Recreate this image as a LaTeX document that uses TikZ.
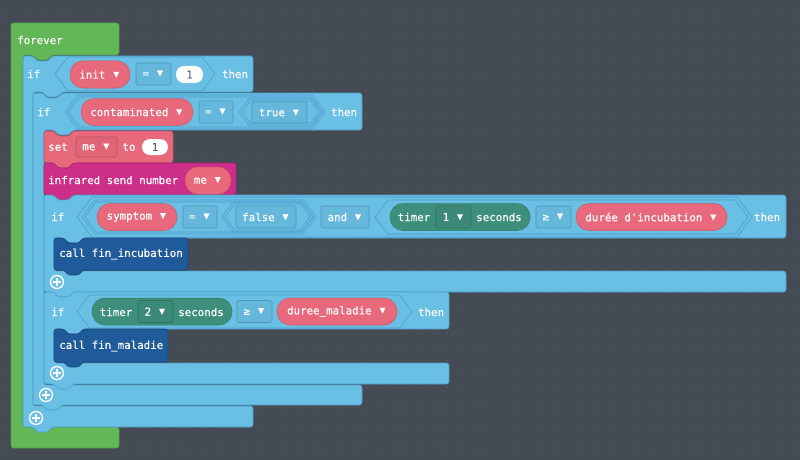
\documentclass[tikz,border=0pt]{standalone}
\usepackage{fontspec}
\newfontfamily\blockfont[FakeBold=0.45]{DejaVu Sans Mono}
\usetikzlibrary{positioning}

\definecolor{workspace}{HTML}{454B54}
\definecolor{griddot}{HTML}{5C626B}
\definecolor{loops}{HTML}{62B856}
\definecolor{logic}{HTML}{69BFE4}
\definecolor{logicline}{HTML}{4E9FC9}
\definecolor{variables}{HTML}{E9697C}
\definecolor{infrared}{HTML}{CC2E89}
\definecolor{functions}{HTML}{1F5A9B}
\definecolor{timers}{HTML}{3D8F7B}
\definecolor{numgray}{HTML}{575E75}

\newcommand{\dd}{{\fontsize{14.5}{12}\selectfont ▾}}
% statement block with top notch and bottom tab: x1,y1,x2,y2,colour
\newcommand{\stmtblock}[5]{%
  \draw [blk, draw=#5!80!black, fill=#5] (#1,#2) -- (#1+10,#2) -- (#1+14,#2+5) -- (#1+25,#2+5) -- (#1+29,#2)
    -- (#3,#2) -- (#3,#4) -- (#1+29,#4) -- (#1+25,#4+5) -- (#1+14,#4+5) -- (#1+10,#4) -- (#1,#4) -- cycle;}
% if block: x1,y1,x2,header bottom,arm,inner bottom,bottom
\newcommand{\ifblock}[7]{%
  \draw [blk, draw=logicline, fill=logic] (#1,#2) -- (#1+10,#2) -- (#1+14,#2+5) -- (#1+25,#2+5) -- (#1+29,#2)
    -- (#3,#2) -- (#3,#4) -- (#1+#5+29,#4) -- (#1+#5+25,#4+5) -- (#1+#5+14,#4+5) -- (#1+#5+10,#4)
    -- (#1+#5,#4) -- (#1+#5,#6) -- (#3,#6) -- (#3,#7) -- (#1+29,#7) -- (#1+25,#7+5) -- (#1+14,#7+5)
    -- (#1+10,#7) -- (#1,#7) -- cycle;}
% boolean slot outline: x1,y1,x2,y2
\newcommand{\hexa}[4]{%
  \draw [hexline] (#1,{(#2+#4)/2}) -- ({#1+0.375*(#4-#2)},#2) -- ({#3-0.375*(#4-#2)},#2) -- (#3,{(#2+#4)/2})
    -- ({#3-0.375*(#4-#2)},#4) -- ({#1+0.375*(#4-#2)},#4) -- cycle;}
\newcommand{\plusicon}[2]{%
  \draw [white, line width=1.3pt] (#1,#2) circle (6.5pt);
  \draw [white, line width=1.6pt] (#1-3.6,#2) -- (#1+3.6,#2) (#1,#2-3.6) -- (#1,#2+3.6);}

\begin{document}
\begin{tikzpicture}[x=1pt,y=-1pt,
  every node/.style={font=\blockfont\fontsize{10.8}{12}\selectfont, text=white, inner sep=0pt},
  blk/.style={rounded corners=2.5pt, line width=0.6pt},
  hexline/.style={draw=logicline, line width=0.6pt},
  pill/.style={draw=#1!85!black, fill=#1, rounded corners=13pt, minimum height=27pt, line width=0.5pt},
  dropbox/.style={draw=#1!78!black, fill=#1!96!black, rounded corners=2pt, minimum height=22pt, line width=0.6pt},
  numpill/.style={fill=white, text=numgray, rounded corners=8pt, minimum height=17pt}]
  \useasboundingbox (0,0) rectangle (800,460);
  \fill [workspace] (0,0) rectangle (800,460);
  \foreach \i in {0,...,59}
    \foreach \j in {0,...,33}
      \fill [griddot] (3.3+\i*13.45,9.3+\j*13.5) circle (0.7pt);

  % forever
  \draw [blk, draw=loops!85!black, fill=loops] (11,23) -- (119,23) -- (119,55) -- (52,55) -- (48,60) -- (37,60)
    -- (33,55) -- (23,55) -- (23,427) -- (119,427) -- (119,448) -- (11,448) -- cycle;
  \node [anchor=west] (forever) at (17,40) {forever};

  % if init = 1
  \ifblock{23}{56}{253}{92}{10}{406}{427}
  \node [anchor=west] (ifinit) at (27,74) {if};
  \hexa{55}{57}{215}{91}
  \node [pill=variables, minimum width=60pt] (init) at (100,74.5) {init \dd};
  \node [dropbox=logic, minimum width=35pt] (eqinit) at (153.5,74) {= \dd};
  \node [numpill, minimum width=27pt] (oneinit) at (189.5,74.5) {1};
  \node (theninit) at (235,74) {then};

  % if contaminated = true
  \ifblock{33}{93}{362}{130}{11}{385}{405}
  \node [anchor=west] (ifcont) at (37,112) {if};
  \hexa{65}{95}{325}{129}
  \hexa{68}{97}{322}{127}
  \node [pill=variables, minimum width=112pt] (cont) at (137,112) {contaminated \dd};
  \node [dropbox=logic, minimum width=34pt] (eqcont) at (216,112) {= \dd};
  \hexa{239}{99}{322}{125}
  \hexa{242}{101}{319}{123}
  \node [dropbox=logic, minimum width=55pt, minimum height=21pt] (true) at (279.5,112.5) {true \dd};
  \node (thencont) at (344,112) {then};

  % set me to 1
  \stmtblock{44}{131}{173}{163}{variables}
  \node (set) at (58,147) {set};
  \node [dropbox=variables, minimum width=41pt, minimum height=20pt] (meset) at (96.5,147) {me \dd};
  \node (to) at (129,147) {to};
  \node [numpill, minimum width=26pt, minimum height=16pt] (oneset) at (155,147) {1};

  % infrared send number me
  \stmtblock{44}{163}{236}{195}{infrared}
  \node [anchor=west] (send) at (48,180) {infrared send number};
  \node [pill=variables, minimum width=46pt] (mesend) at (208,180.5) {me \dd};

  % if symptom = false and timer 1 >= incubation
  \ifblock{44}{195}{786}{238}{10}{271}{292}
  \node [anchor=west] (ifsymp) at (51,217) {if};
  \hexa{77}{197}{752}{237}
  \hexa{82}{200}{316}{234}
  \hexa{85}{202}{313}{232}
  \node [pill=variables, minimum width=80pt] (symptom) at (137,217) {symptom \dd};
  \node [dropbox=logic, minimum width=34pt] (eqsymp) at (200,217) {= \dd};
  \hexa{222}{202}{313}{232}
  \hexa{225}{204}{310}{230}
  \node [dropbox=logic, minimum width=60pt] (false) at (266,217) {false \dd};
  \node [dropbox=logic, minimum width=48pt] (and) at (345,217) {and \dd};
  \hexa{375}{200}{748}{234}
  \node [pill=timers, minimum width=140pt] (timerone) at (460,217) {};
  \node (timeronelbl) at (414,217) {timer};
  \node [dropbox=timers, minimum width=35pt] (tone) at (453.5,217) {1 \dd};
  \node (secone) at (499,217) {seconds};
  \node [dropbox=logic, minimum width=35pt] (geone) at (553.5,217) {≥ \dd};
  \node [pill=variables, minimum width=151pt] (incub) at (651.5,217) {durée d'incubation \dd};
  \node (thensymp) at (767,217) {then};

  \stmtblock{54}{238}{188}{270}{functions}
  \node [anchor=west] (callincub) at (59,254) {call fin\_incubation};
  \plusicon{57}{282}

  % if timer 2 >= duree_maladie
  \ifblock{44}{292}{449}{329}{10}{363}{384}
  \node [anchor=west] (iftimer) at (51,312) {if};
  \hexa{77}{295}{412}{328}
  \node [pill=timers, minimum width=140pt] (timertwo) at (162,311.5) {};
  \node (timertwolbl) at (116,312) {timer};
  \node [dropbox=timers, minimum width=35pt] (ttwo) at (155.5,311.5) {2 \dd};
  \node (sectwo) at (201,312) {seconds};
  \node [dropbox=logic, minimum width=35pt] (getwo) at (254.5,311.5) {≥ \dd};
  \node [pill=variables, minimum width=120pt] (maladie) at (337,311.5) {duree\_maladie \dd};
  \node (thentimer) at (431,312) {then};

  \stmtblock{54}{329}{168}{362}{functions}
  \node [anchor=west] (callmaladie) at (59,346) {call fin\_maladie};
  \plusicon{57}{373}

  \plusicon{46}{395}
  \plusicon{36}{418}
\end{tikzpicture}
\end{document}
